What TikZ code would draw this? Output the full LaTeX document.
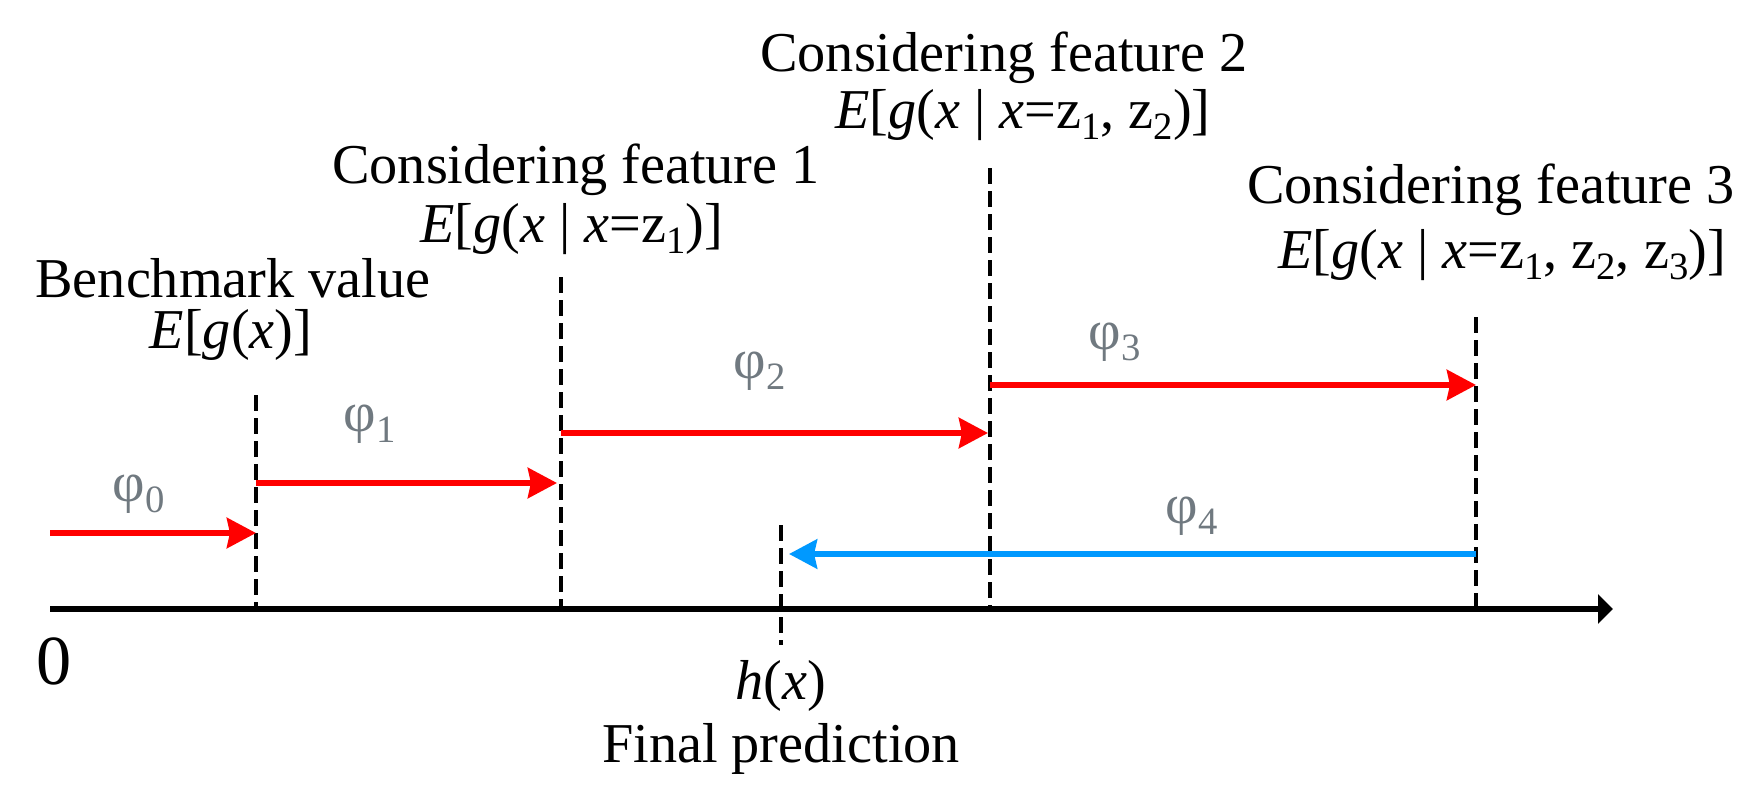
\documentclass[tikz,border=0pt]{standalone}
\usepackage{fontspec}
\setmainfont{Liberation Serif}
\usetikzlibrary{arrows.meta}
\definecolor{phigray}{RGB}{112,121,128}
\definecolor{arrred}{RGB}{255,0,0}
\definecolor{arrblue}{RGB}{0,153,255}
\newcommand\lo[1]{\raisebox{-0.2em}{\fontsize{11pt}{11pt}\selectfont #1}}
\newcommand\ph[1]{φ\lo{#1}}
\begin{document}
\begin{tikzpicture}[x=0.01cm,y=-0.01cm,
  txt/.style={font=\fontsize{16pt}{19pt}\selectfont, inner sep=0pt, anchor=base},
  lab/.style={inner sep=0pt, anchor=base west, text=phigray, font=\fontsize{16pt}{19pt}\selectfont},
  guide/.style={line width=0.04cm, dash pattern=on 0.16cm off 0.07cm},
  axisline/.style={line width=0.06cm, -{Triangle[length=0.15cm,width=0.29cm]}},
  redarrow/.style={line width=0.06cm, arrred, -{Stealth[length=0.29cm,width=0.30cm,inset=0.03cm]}},
  bluearrow/.style={line width=0.06cm, arrblue, -{Stealth[length=0.28cm,width=0.29cm,inset=0.03cm]}}
]
\useasboundingbox (0,0) rectangle (1760,797);
% axis
\coordinate (o) at (50,609);
\coordinate (xend) at (1613,609);
\draw[axisline] (o) -- (xend);
\node[txt, font=\fontsize{20pt}{24pt}\selectfont] (zero) at (54,684) {0};
% guides
\coordinate (d1t) at (256,395); \coordinate (d1b) at (256,609);
\coordinate (d2t) at (561,277); \coordinate (d2b) at (561,609);
\coordinate (d3t) at (990,168); \coordinate (d3b) at (990,609);
\coordinate (d4t) at (1476,317); \coordinate (d4b) at (1476,609);
\coordinate (ht) at (781,525); \coordinate (hb) at (781,645);
\draw[guide] (d1t) -- (d1b);
\draw[guide] (d2t) -- (d2b);
\draw[guide] (d3t) -- (d3b);
\draw[guide] (d4t) -- (d4b);
\draw[guide] (ht) -- (hb);
% arrows
\coordinate (a0s) at (50,533); \coordinate (a0e) at (256,533);
\coordinate (a1s) at (256,483); \coordinate (a1e) at (557,483);
\coordinate (a2s) at (561,433); \coordinate (a2e) at (988,433);
\coordinate (a3s) at (990,385); \coordinate (a3e) at (1476,385);
\coordinate (a4s) at (1476,554); \coordinate (a4e) at (789,554);
\draw[redarrow] (a0s) -- (a0e);
\draw[redarrow] (a1s) -- (a1e);
\draw[redarrow] (a2s) -- (a2e);
\draw[redarrow] (a3s) -- (a3e);
\draw[bluearrow] (a4s) -- (a4e);
% labels
\node[lab] (p0) at (112,501) {\ph{0}};
\node[lab] (p1) at (343,431) {\ph{1}};
\node[lab] (p2) at (733,378) {\ph{2}};
\node[lab] (p3) at (1088,349) {\ph{3}};
\node[lab] (p4) at (1165,523) {\ph{4}};
% texts
\node[txt] (bench) at (233,297) {Benchmark value};
\node[txt] (benchE) at (231,348) {\textit{E}[\textit{g}(\textit{x})]};
\node[txt] (f1) at (576,183) {Considering feature 1};
\node[txt] (f1E) at (572,242) {\textit{E}[\textit{g}(\textit{x} | \textit{x}=z\lo{1})]};
\node[txt] (f2) at (1004,71) {Considering feature 2};
\node[txt] (f2E) at (1023,128) {\textit{E}[\textit{g}(\textit{x} | \textit{x}=z\lo{1}, z\lo{2})]};
\node[txt] (f3) at (1491,203) {Considering feature 3};
\node[txt] (f3E) at (1502,268) {\textit{E}[\textit{g}(\textit{x} | \textit{x}=z\lo{1}, z\lo{2}, z\lo{3})]};
\node[txt] (hx) at (781,699) {\textit{h}(\textit{x})};
\node[txt] (final) at (781,762) {Final prediction};
\end{tikzpicture}
\end{document}
